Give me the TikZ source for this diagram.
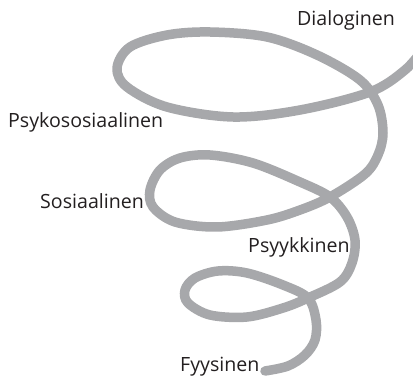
\documentclass[tikz,border=0pt]{standalone}
\usepackage{fontspec}
\setmainfont{Open Sans}
\definecolor{coil}{RGB}{167,168,171}
\definecolor{ink}{RGB}{35,31,32}
\begin{document}
\begin{tikzpicture}[x=1pt,y=-1pt,
  level/.style={anchor=base west,inner sep=0pt,text=ink,font=\fontsize{19.6}{20}\selectfont},
  coilline/.style={draw=coil,line width=9.5pt,line cap=round,line join=round}]
\useasboundingbox (0,0) rectangle (413,377);
\begin{scope}
\clip (0,0) rectangle (413,377);
% the spiral, from the wide top turn down to the narrow bottom end
\draw[coilline] plot[smooth,tension=0.55] coordinates {
  (424,48) (405,70) (370,92) (300,110) (233,117) (167,107) (127,87)
  (117,68) (130,47) (167,35) (210,32) (267,37) (317,55) (360,80)
  (378,105) (383,133) (378,155) (365,174) (330,197) (300,210)
  (267,220) (217,227) (175,222) (153,207) (150,190) (160,170)
  (180,158) (210,155) (253,163) (300,182) (330,197) (347,217)
  (355,240) (352,263) (340,282) (308,298) (283,308) (247,317)
  (210,315) (188,303) (185,290) (195,278) (218,271) (247,273)
  (283,285) (308,298) (316,320) (315,340) (305,355) (288,366)
  (265,371)};
\end{scope}
\node[level] (dia) at (297,26) {Dialoginen};
\node[level] (psykos) at (8,127.5) {Psykososiaalinen};
\node[level] (sos) at (40,209) {Sosiaalinen};
\node[level] (psyyk) at (248,253) {Psyykkinen};
\node[level] (fyys) at (180,371) {Fyysinen};
\end{tikzpicture}
\end{document}
